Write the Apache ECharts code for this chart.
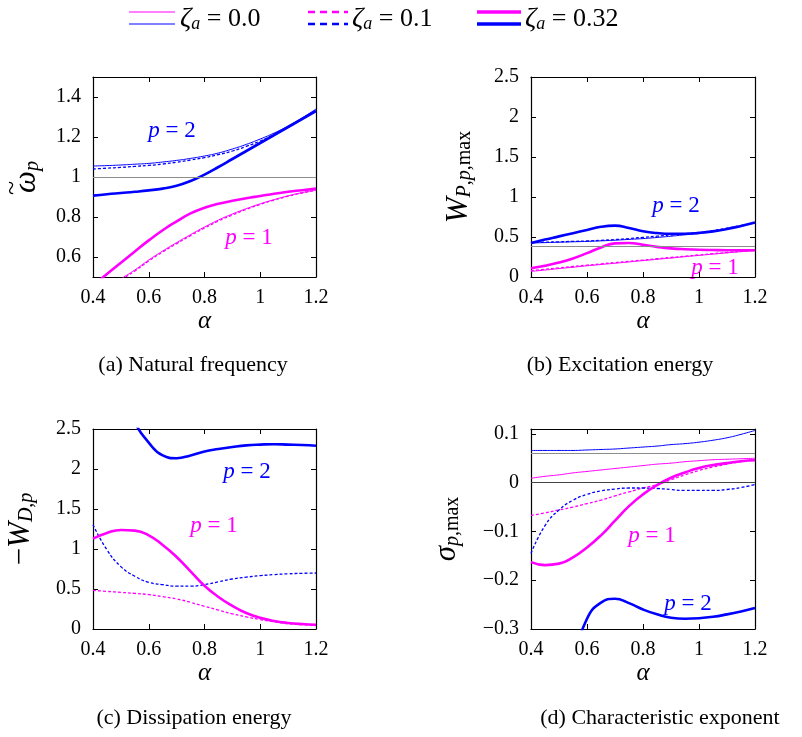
<!DOCTYPE html>
<html>
<head>
<meta charset="utf-8">
<script src="https://cdn.jsdelivr.net/npm/echarts@6/dist/echarts.min.js"></script>
<style>html,body{margin:0;background:#fff}#main{width:802px;height:737px}</style>
</head>
<body>
<div id="main"></div>
<script>
// alpha grid shared by every curve
var alpha = [0.4, 0.45, 0.5, 0.55, 0.6, 0.65, 0.7, 0.75, 0.8, 0.85, 0.9, 0.95, 1.0, 1.05, 1.1, 1.15, 1.2];
var xTicks = [0.4, 0.6, 0.8, 1, 1.2];

// (a) natural frequency
var aTicks = [0.6, 0.8, 1, 1.2, 1.4];
var aRef = 1;
var a_p1_z0  = [0.39, 0.44, 0.49, 0.535, 0.585, 0.63, 0.672, 0.712, 0.75, 0.785, 0.815, 0.842, 0.866, 0.887, 0.906, 0.922, 0.935];
var a_p1_z1  = [0.385, 0.435, 0.485, 0.53, 0.58, 0.625, 0.667, 0.707, 0.745, 0.78, 0.81, 0.838, 0.863, 0.885, 0.904, 0.92, 0.933];
var a_p1_z32 = [0.455, 0.515, 0.571, 0.628, 0.683, 0.734, 0.778, 0.818, 0.846, 0.866, 0.881, 0.894, 0.905, 0.916, 0.926, 0.934, 0.942];
var a_p2_z0  = [1.055, 1.057, 1.06, 1.064, 1.068, 1.075, 1.083, 1.093, 1.105, 1.12, 1.14, 1.163, 1.19, 1.22, 1.255, 1.295, 1.34];
var a_p2_z1  = [1.04, 1.044, 1.048, 1.053, 1.058, 1.065, 1.074, 1.085, 1.097, 1.112, 1.13, 1.153, 1.18, 1.212, 1.248, 1.29, 1.335];
var a_p2_z32 = [0.907, 0.914, 0.92, 0.926, 0.933, 0.942, 0.956, 0.98, 1.012, 1.05, 1.09, 1.13, 1.17, 1.21, 1.25, 1.29, 1.33];

// (b) excitation energy
var bTicks = [0, 0.5, 1, 1.5, 2, 2.5];
var bRef = 0.38;
var b_p1_z0  = [0.07, 0.087, 0.105, 0.122, 0.14, 0.156, 0.172, 0.188, 0.205, 0.221, 0.237, 0.254, 0.27, 0.286, 0.302, 0.317, 0.33];
var b_p1_z1  = [0.08, 0.097, 0.114, 0.131, 0.148, 0.164, 0.18, 0.196, 0.212, 0.228, 0.244, 0.26, 0.276, 0.291, 0.306, 0.32, 0.333];
var b_p1_z32 = [0.11, 0.14, 0.18, 0.232, 0.298, 0.37, 0.42, 0.425, 0.402, 0.377, 0.358, 0.347, 0.34, 0.337, 0.335, 0.335, 0.335];
var b_p2_z0  = [0.425, 0.43, 0.435, 0.44, 0.445, 0.452, 0.46, 0.47, 0.48, 0.494, 0.51, 0.527, 0.545, 0.57, 0.6, 0.636, 0.68];
var b_p2_z1  = [0.43, 0.435, 0.44, 0.445, 0.45, 0.458, 0.468, 0.48, 0.495, 0.51, 0.525, 0.54, 0.555, 0.58, 0.61, 0.642, 0.68];
var b_p2_z32 = [0.425, 0.468, 0.508, 0.548, 0.588, 0.628, 0.642, 0.612, 0.572, 0.549, 0.54, 0.541, 0.551, 0.57, 0.6, 0.638, 0.68];

// (c) dissipation energy (zeta = 0 gives zero)
var cTicks = [0, 0.5, 1, 1.5, 2, 2.5];
var c_p1_z1  = [0.483, 0.47, 0.458, 0.445, 0.43, 0.405, 0.375, 0.333, 0.283, 0.237, 0.19, 0.152, 0.117, 0.09, 0.067, 0.053, 0.042];
var c_p1_z32 = [1.129, 1.2, 1.238, 1.23, 1.17, 1.05, 0.9, 0.72, 0.54, 0.4, 0.29, 0.2, 0.14, 0.1, 0.076, 0.062, 0.054];
var c_p2_z1  = [1.304, 0.99, 0.78, 0.66, 0.583, 0.555, 0.535, 0.535, 0.555, 0.59, 0.625, 0.648, 0.667, 0.68, 0.69, 0.696, 0.7];
var c_p2_z32 = [null, null, 2.95, 2.58, 2.33, 2.17, 2.135, 2.17, 2.22, 2.25, 2.275, 2.295, 2.305, 2.31, 2.305, 2.3, 2.29];

// (d) characteristic exponent
var dTicks = [-0.3, -0.2, -0.1, 0, 0.1];
var dRef = [0.059, 0];
var d_p1_z0  = [0.009, 0.013, 0.016, 0.02, 0.023, 0.026, 0.029, 0.032, 0.035, 0.038, 0.04, 0.043, 0.045, 0.047, 0.048, 0.049, 0.05];
var d_p1_z1  = [-0.067, -0.062, -0.056, -0.05, -0.043, -0.036, -0.027, -0.019, -0.011, -0.004, 0.006, 0.016, 0.025, 0.032, 0.038, 0.043, 0.047];
var d_p1_z32 = [-0.163, -0.169, -0.166, -0.153, -0.133, -0.108, -0.078, -0.048, -0.024, -0.005, 0.01, 0.021, 0.03, 0.036, 0.04, 0.044, 0.046];
var d_p2_z0  = [0.066, 0.066, 0.066, 0.066, 0.067, 0.068, 0.069, 0.071, 0.073, 0.075, 0.078, 0.08, 0.083, 0.087, 0.092, 0.099, 0.107];
var d_p2_z1  = [-0.145, -0.088, -0.056, -0.036, -0.024, -0.017, -0.013, -0.011, -0.011, -0.012, -0.014, -0.016, -0.016, -0.016, -0.014, -0.01, -0.004];
var d_p2_z32 = [null, null, -0.5, -0.37, -0.279, -0.246, -0.238, -0.247, -0.26, -0.27, -0.277, -0.279, -0.278, -0.275, -0.27, -0.264, -0.257];

var SERIF = 'Liberation Serif';
var MAG = '#ff00ff', BLUE = '#0000ff';
var styles = {
    z0:  {width: 1, type: 'solid'},
    z1:  {width: 1.3, type: [3, 2]},
    z32: {width: 2.6, type: 'solid'}
};

var grids = [
    {left: 93, top: 77, width: 223, height: 200},
    {left: 531, top: 77, width: 224, height: 200},
    {left: 93, top: 429, width: 223, height: 200},
    {left: 531, top: 429, width: 224, height: 200}
];

var subRich = {
    big: {fontFamily: SERIF, fontSize: 31, fontStyle: 'italic', color: '#000', lineHeight: 32},
    bigN: {fontFamily: SERIF, fontSize: 31, color: '#000', lineHeight: 32},
    si: {fontFamily: SERIF, fontSize: 20, fontStyle: 'italic', color: '#000', verticalAlign: 'bottom', lineHeight: 19},
    s: {fontFamily: SERIF, fontSize: 20, color: '#000', verticalAlign: 'bottom', lineHeight: 19}
};

function axLine() { return {show: true, onZero: false, lineStyle: {color: '#000', width: 1.2}}; }

function xAxes(g) {
    var base = {
        gridIndex: g, type: 'value', min: 0.4, max: 1.2,
        axisLine: axLine(),
        axisTick: {inside: true, length: 5, customValues: xTicks, lineStyle: {color: '#000'}},
        splitLine: {show: false}
    };
    var bottom = Object.assign({}, base, {
        position: 'bottom',
        name: 'α', nameLocation: 'middle', nameGap: 32,
        nameTextStyle: {fontFamily: SERIF, fontSize: 25, fontStyle: 'italic', color: '#000'},
        axisLabel: {customValues: xTicks, fontFamily: SERIF, fontSize: 20, color: '#000', margin: 11}
    });
    var top = Object.assign({}, base, {position: 'top', axisLabel: {show: false}});
    return [bottom, top];
}

function yAxes(g, min, max, ticks, name, gap) {
    var base = {
        gridIndex: g, type: 'value', min: min, max: max,
        axisLine: axLine(),
        axisTick: {inside: true, length: 5, customValues: ticks, lineStyle: {color: '#000'}},
        splitLine: {show: false}
    };
    var left = Object.assign({}, base, {
        position: 'left',
        name: name, nameLocation: 'middle', nameGap: gap, nameRotate: 90,
        nameTextStyle: {rich: subRich},
        axisLabel: {
            customValues: ticks, fontFamily: SERIF, fontSize: 20, color: '#000', margin: 12,
            formatter: function (v) { return String(+v.toFixed(2)).replace('-', '−'); }
        }
    });
    var right = Object.assign({}, base, {position: 'right', axisLabel: {show: false}});
    return [left, right];
}

function line(g, ys, color, z, refs, refColors) {
    var st = styles[z];
    var pts = [];
    alpha.forEach(function (a, i) { if (ys[i] != null) pts.push([a, ys[i]]); });
    var s = {
        type: 'line', xAxisIndex: 2 * g, yAxisIndex: 2 * g,
        data: pts, showSymbol: false, smooth: 0.5,
        clip: true, silent: true,
        lineStyle: {color: color, width: st.width, type: st.type},
        z: z === 'z32' ? 4 : 3
    };
    if (refs) {
        s.markLine = {
            silent: true, symbol: 'none', animation: false,
            label: {show: false},
            data: refs.map(function (v, k) {
                return {yAxis: v, lineStyle: {color: refColors[k], width: 1.2, type: 'solid'}};
            })
        };
    }
    return s;
}

var xAxis = [].concat(xAxes(0), xAxes(1), xAxes(2), xAxes(3));
var yAxis = [].concat(
    yAxes(0, 0.5, 1.5, aTicks, '{big|ω}{si|p}', 50),
    yAxes(1, 0, 2.5, bTicks, '{big|W}{si|P}{s|,}{si|p}{s|,max}', 56),
    yAxes(2, 0, 2.5, cTicks, '{bigN|−}{big|W}{si|D}{s|,}{si|p}', 56),
    yAxes(3, -0.3, 0.11, dTicks, '{big|σ}{si|p}{s|,max}', 68)
);

var series = [
    line(0, a_p1_z0, MAG, 'z0', [aRef], ['#8c8c8c']),
    line(0, a_p1_z1, MAG, 'z1'),
    line(0, a_p1_z32, MAG, 'z32'),
    line(0, a_p2_z0, BLUE, 'z0'),
    line(0, a_p2_z1, BLUE, 'z1'),
    line(0, a_p2_z32, BLUE, 'z32'),
    line(1, b_p1_z0, MAG, 'z0', [bRef], ['#8c8c8c']),
    line(1, b_p1_z1, MAG, 'z1'),
    line(1, b_p1_z32, MAG, 'z32'),
    line(1, b_p2_z0, BLUE, 'z0'),
    line(1, b_p2_z1, BLUE, 'z1'),
    line(1, b_p2_z32, BLUE, 'z32'),
    line(2, c_p1_z1, MAG, 'z1'),
    line(2, c_p1_z32, MAG, 'z32'),
    line(2, c_p2_z1, BLUE, 'z1'),
    line(2, c_p2_z32, BLUE, 'z32'),
    line(3, d_p1_z0, MAG, 'z0', dRef, ['#8c8c8c', '#444']),
    line(3, d_p1_z1, MAG, 'z1'),
    line(3, d_p1_z32, MAG, 'z32'),
    line(3, d_p2_z0, BLUE, 'z0'),
    line(3, d_p2_z1, BLUE, 'z1'),
    line(3, d_p2_z32, BLUE, 'z32')
];

// legend, curve labels and panel captions
var txtRich = {
    i: {fontFamily: SERIF, fontSize: 23, fontStyle: 'italic'},
    n: {fontFamily: SERIF, fontSize: 23}
};
function pLabel(x, y, p, color) {
    return {
        type: 'text', x: x, y: y, silent: true,
        style: {text: '{i|p}{n| = ' + p + '}', rich: txtRich, fill: color, align: 'center', verticalAlign: 'middle'}
    };
}
function caption(x, y, t) {
    return {
        type: 'text', x: x, y: y, silent: true,
        style: {text: t, fontFamily: SERIF, fontSize: 22, fill: '#000', align: 'center', verticalAlign: 'middle'}
    };
}
var legRich = {
    z: {fontFamily: SERIF, fontSize: 28, fontStyle: 'italic', fill: '#000', lineHeight: 28},
    a: {fontFamily: SERIF, fontSize: 18, fontStyle: 'italic', fill: '#000', verticalAlign: 'bottom', lineHeight: 17},
    n: {fontFamily: SERIF, fontSize: 26, fill: '#000', lineHeight: 28}
};
function legItem(x1, x2, tx, key, label) {
    var w = key === 'z0' ? 1.2 : (key === 'z1' ? 2.4 : 3.6);
    var dash = key === 'z1' ? [7, 5] : null;
    return [
        {type: 'line', silent: true, shape: {x1: x1, y1: 12, x2: x2, y2: 12}, style: {stroke: MAG, lineWidth: w, lineDash: dash}},
        {type: 'line', silent: true, shape: {x1: x1, y1: 24, x2: x2, y2: 24}, style: {stroke: BLUE, lineWidth: w, lineDash: dash}},
        {type: 'text', silent: true, x: tx, y: 19, style: {text: '{z|ζ}{a|a}{n| = ' + label + '}', rich: legRich, align: 'left', verticalAlign: 'middle'}}
    ];
}

var graphic = [].concat(
    legItem(129, 175, 180, 'z0', '0.0'),
    legItem(308, 348, 352, 'z1', '0.1'),
    legItem(477, 521, 525, 'z32', '0.32'),
    [
        // tilde over omega in the (a) axis name
        {type: 'text', silent: true, x: 12, y: 188, rotation: Math.PI / 2,
         style: {text: '~', fontFamily: SERIF, fontSize: 26, fill: '#000', align: 'center', verticalAlign: 'middle'}},
        pLabel(172, 131, 2, BLUE), pLabel(249, 238, 1, MAG),
        pLabel(676, 206, 2, BLUE), pLabel(715, 268, 1, MAG),
        pLabel(247, 472, 2, BLUE), pLabel(214, 526, 1, MAG),
        pLabel(652, 536, 1, MAG), pLabel(688, 604, 2, BLUE),
        caption(193, 365, '(a) Natural frequency'),
        caption(620, 365, '(b) Excitation energy'),
        caption(194, 718, '(c) Dissipation energy'),
        caption(660, 718, '(d) Characteristic exponent')
    ]
);

var ec = echarts.init(document.getElementById('main'), null, {renderer: 'canvas'});
ec.setOption({
    animation: false,
    backgroundColor: '#fff',
    grid: grids,
    xAxis: xAxis,
    yAxis: yAxis,
    series: series,
    graphic: graphic
});
</script>
</body>
</html>
